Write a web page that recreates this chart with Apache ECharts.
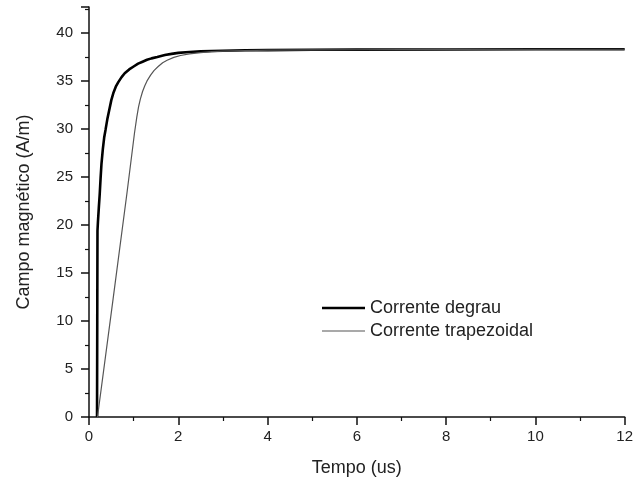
<!DOCTYPE html>
<html>
<head>
<meta charset="utf-8">
<script src="https://cdn.jsdelivr.net/npm/echarts@6/dist/echarts.min.js"></script>
<style>html,body{margin:0;padding:0;background:#fff;}#c{width:636px;height:483px;}</style>
</head>
<body>
<div id="c"></div>
<script>
const seriesNames = ['Corrente degrau', 'Corrente trapezoidal'];
const degrauX = [0.18, 0.185, 0.19, 0.20, 0.22, 0.24, 0.26, 0.28, 0.31, 0.34, 0.37, 0.41, 0.45, 0.5, 0.55, 0.6, 0.66, 0.73, 0.8, 0.9, 1.0, 1.1, 1.2, 1.3, 1.4, 1.53, 1.7, 1.85, 2.0, 2.25, 2.5, 2.75, 3, 3.5, 4, 5, 6, 8, 10, 12];
const degrauY = [0, 10, 19.4, 20.3, 21.8, 23.2, 24.9, 26.4, 27.9, 29.1, 29.9, 31.0, 31.9, 33.0, 33.8, 34.4, 34.9, 35.4, 35.8, 36.2, 36.5, 36.8, 37.0, 37.2, 37.35, 37.5, 37.7, 37.82, 37.92, 38.02, 38.08, 38.12, 38.15, 38.19, 38.21, 38.24, 38.26, 38.28, 38.3, 38.3];
const trapX = [0.19, 0.54, 0.85, 1.02, 1.07, 1.11, 1.15, 1.2, 1.25, 1.3, 1.38, 1.46, 1.55, 1.65, 1.75, 1.9, 2.05, 2.25, 2.5, 2.75, 3, 3.5, 4, 5, 6, 8, 12];
const trapY = [0, 12.3, 23.3, 29.6, 31.2, 32.3, 33.1, 33.9, 34.5, 35.0, 35.6, 36.1, 36.5, 36.9, 37.15, 37.45, 37.65, 37.82, 37.95, 38.05, 38.1, 38.16, 38.2, 38.23, 38.25, 38.28, 38.3];
const xTitle = 'Tempo (us)';
const yTitle = 'Campo magnético (A/m)';

const font = 'Liberation Sans, Arial, sans-serif';
const chart = echarts.init(document.getElementById('c'));
const axisCommon = {
  axisLine: {show: true, onZero: false, lineStyle: {color: '#111', width: 1.5}},
  axisTick: {show: true, inside: false, length: 8, lineStyle: {color: '#111', width: 1.5}},
  minorTick: {show: true, splitNumber: 2, length: 4, lineStyle: {color: '#111', width: 1.2}},
  splitLine: {show: false},
  nameTextStyle: {fontFamily: font, fontSize: 18, color: '#222'},
  nameLocation: 'middle'
};
const legendText = {fontFamily: font, fontSize: 18, color: '#222'};
chart.setOption({
  animation: false,
  backgroundColor: '#fff',
  grid: {left: 89, right: 7, top: 7, bottom: 66},
  legend: [
    {left: 317, top: 294, itemWidth: 43, itemHeight: 2.6, icon: 'rect', textStyle: legendText,
     data: [seriesNames[0]]},
    {left: 317, top: 317, itemWidth: 43, itemHeight: 1.2, icon: 'rect', textStyle: legendText,
     data: [seriesNames[1]]}
  ],
  xAxis: Object.assign({}, axisCommon, {
    type: 'value', min: 0, max: 12, interval: 2,
    name: xTitle, nameGap: 42,
    axisLabel: {fontFamily: font, fontSize: 15, color: '#222', margin: 12}
  }),
  yAxis: Object.assign({}, axisCommon, {
    type: 'value', min: 0, max: 42.7, interval: 5,
    name: yTitle, nameGap: 56,
    axisLabel: {fontFamily: font, fontSize: 15, color: '#222', margin: 16,
      formatter: v => (Math.abs(v % 5) < 1e-9 ? String(v) : '')}
  }),
  series: [
    {name: seriesNames[0], type: 'line', symbol: 'none', smooth: false,
     lineStyle: {color: '#000', width: 2.6}, itemStyle: {color: '#000'},
     data: degrauX.map((x, i) => [x, degrauY[i]])},
    {name: seriesNames[1], type: 'line', symbol: 'none', smooth: false,
     lineStyle: {color: '#555', width: 1.2}, itemStyle: {color: '#555'},
     data: trapX.map((x, i) => [x, trapY[i]])}
  ]
});
</script>
</body>
</html>
